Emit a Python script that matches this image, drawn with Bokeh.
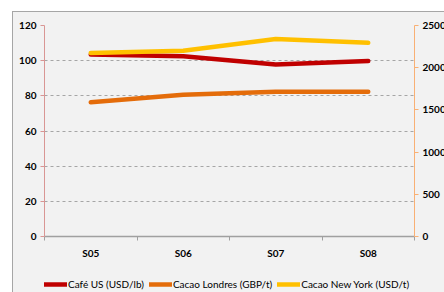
import numpy as np
from bokeh.plotting import figure
from bokeh.layouts import column
from bokeh.models import (Range1d, LinearAxis, FixedTicker, Legend, LegendItem)
from bokeh.embed import file_html
from bokeh.resources import INLINE

# ---- data ----
periods = ["S05", "S06", "S07", "S08"]
cafe_us = [103.5, 102.5, 97.8, 99.8]          # USD/lb (left axis)
cacao_londres = [1590, 1680, 1715, 1715]      # GBP/t (right axis)
cacao_ny = [2175, 2200, 2340, 2295]           # USD/t (right axis)
left_ticks = [0, 20, 40, 60, 80, 100, 120]
right_ticks = [0, 500, 1000, 1500, 2000, 2500]
series_names = ["Café US (USD/lb)", "Cacao Londres (GBP/t)", "Cacao New York (USD/t)"]
series_colors = ["#c00000", "#e46c0a", "#ffc000"]

n = len(periods)
x_centers = [i + 0.5 for i in range(n)]
x_bounds = list(range(n + 1))

BG = "#f2f2f2"
FONT = "Lato"
LW = 4.5

fig = figure(frame_width=370, frame_height=211, output_backend="svg", toolbar_location=None,
             x_range=Range1d(0, n), y_range=Range1d(left_ticks[0], left_ticks[-1]),
             background_fill_color=BG, border_fill_color=BG,
             min_border_left=31, min_border_right=30, min_border_top=13,
             min_border_bottom=24)
fig.outline_line_color = None

# x axis
xa = fig.xaxis[0]
xa.ticker = FixedTicker(ticks=x_centers, minor_ticks=x_bounds)
xa.major_label_overrides = {c: lab for c, lab in zip(x_centers, periods)}
xa.major_tick_line_color = None
xa.major_tick_out = 4
xa.minor_tick_line_color = "#a0a0a0"
xa.minor_tick_out = 4
xa.minor_tick_in = 0
xa.axis_line_color = "#a0a0a0"
xa.axis_line_width = 1.5
xa.major_label_text_font = FONT
xa.major_label_text_font_style = "bold"
xa.major_label_text_font_size = "10px"
xa.major_label_text_color = "#000000"
xa.major_label_standoff = 6
fig.xgrid.grid_line_color = None

# left axis
ya = fig.yaxis[0]
ya.ticker = FixedTicker(ticks=left_ticks)
ya.axis_line_color = "#d99694"
ya.major_tick_line_color = "#d99694"
ya.major_tick_out = 4
ya.major_tick_in = 0
ya.minor_tick_line_color = None
ya.major_label_text_font = FONT
ya.major_label_text_font_style = "bold"
ya.major_label_text_font_size = "10px"
ya.major_label_text_color = "#000000"
ya.major_label_standoff = 4
fig.ygrid.ticker = FixedTicker(ticks=left_ticks)
fig.ygrid.grid_line_color = "#a6a6a6"
fig.ygrid.grid_line_dash = "3 3"

# right axis
fig.extra_y_ranges = {"right": Range1d(right_ticks[0], right_ticks[-1])}
ra = LinearAxis(y_range_name="right", ticker=FixedTicker(ticks=right_ticks))
ra.axis_line_color = "#f9b074"
ra.major_tick_line_color = "#f9b074"
ra.major_tick_out = 4
ra.major_tick_in = 0
ra.minor_tick_line_color = None
ra.major_label_text_font = FONT
ra.major_label_text_font_style = "bold"
ra.major_label_text_font_size = "10px"
ra.major_label_text_color = "#000000"
ra.major_label_standoff = 4
fig.add_layout(ra, "right")

# lines
series = [cafe_us, cacao_londres, cacao_ny]
axes_names = ["default", "right", "right"]
for vals, col, yr in zip(series, series_colors, axes_names):
    fig.line(x_centers, vals, line_color=col, line_width=LW, line_cap="round",
             y_range_name=yr)

# legend strip (separate figure below the chart, same background); its lines
# lie outside its visible x range so only the legend keys show
leg = figure(width=431, height=32, output_backend="svg", toolbar_location=None,
             x_range=Range1d(n + 10, n + 11), y_range=Range1d(0, 1),
             x_axis_type=None, y_axis_type=None,
             background_fill_color=BG, border_fill_color=BG,
             min_border_left=0, min_border_right=0, min_border_top=0, min_border_bottom=0)
leg.outline_line_color = None
leg.grid.visible = False

keys = [leg.line(x_centers, [0.5] * n, line_color=c, line_width=LW, line_cap="round")
        for c in series_colors]
legend = Legend(items=[LegendItem(label=nm, renderers=[r]) for nm, r in zip(series_names, keys)],
                orientation="horizontal", location=(0, 3))
legend.glyph_width = 23
legend.glyph_height = 12
legend.label_height = 12
legend.label_standoff = 1
legend.spacing = 5
legend.padding = 0
legend.margin = 0
legend.border_line_color = None
legend.background_fill_alpha = 0
legend.label_text_font = FONT
legend.label_text_font_size = "10px"
legend.label_text_color = "#000000"
leg.add_layout(legend, "center")

p = column(fig, leg, spacing=0, margin=(12, 0, 0, 13),
           styles={"box-shadow": "-1px -1px 0 0 #a6a6a6", "background-color": BG})

open("out.html", "w").write(file_html(p, INLINE))
